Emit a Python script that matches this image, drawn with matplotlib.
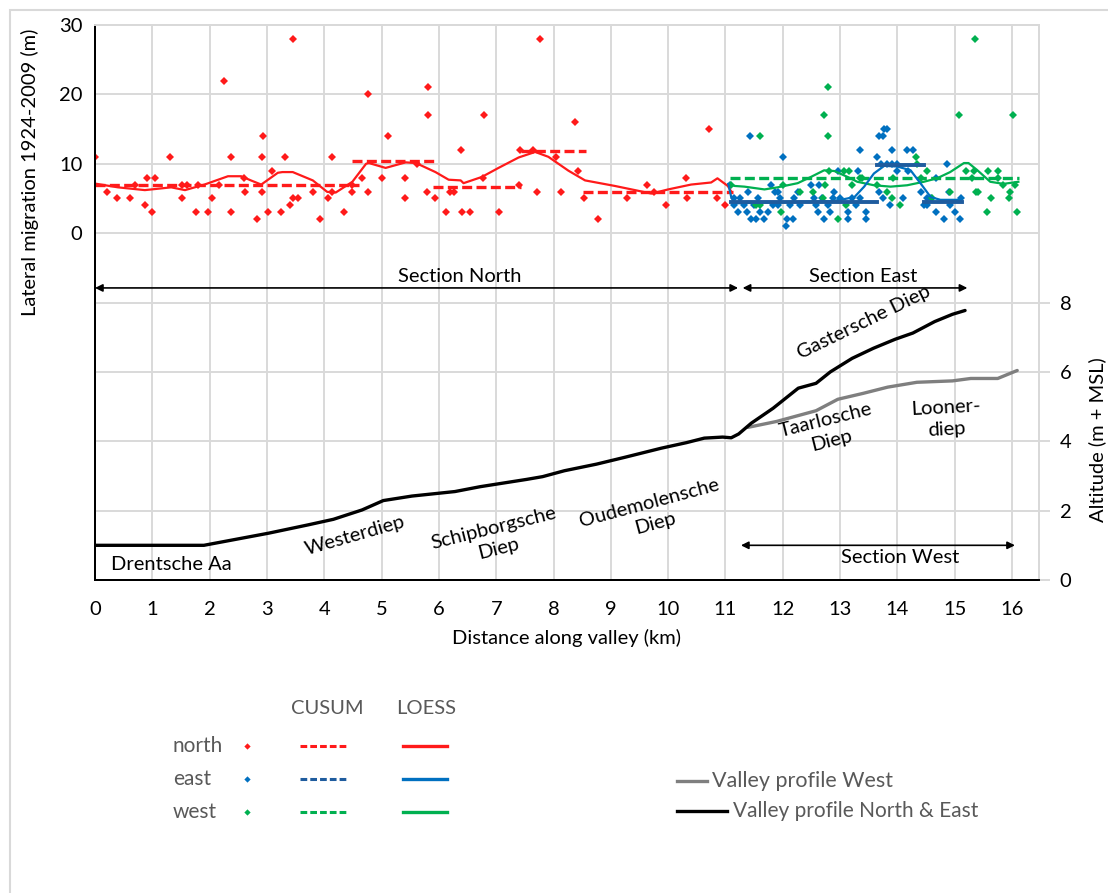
import matplotlib
matplotlib.use("Agg")
import matplotlib.pyplot as plt
from matplotlib.lines import Line2D
from matplotlib.patches import Rectangle

plt.rcParams["font.family"] = ["Lato", "DejaVu Sans"]

# ---- lateral migration per section (km along valley, metres) ----
north_km = [0.00, 0.21, 0.39, 0.61, 0.69, 0.87, 0.90, 0.99, 1.04, 1.30, 1.52, 1.52, 1.61, 1.77,
            1.80, 1.98, 2.04, 2.17, 2.25, 2.37, 2.38, 2.60, 2.62, 2.83, 2.91, 2.91, 2.93, 3.02,
            3.08, 3.24, 3.31, 3.41, 3.45, 3.45, 3.54, 3.80, 3.92, 4.07, 4.14, 4.14, 4.35, 4.49,
            4.49, 4.65, 4.77, 4.77, 5.00, 5.11, 5.41, 5.41, 5.61, 5.80, 5.81, 5.81, 5.93, 6.13,
            6.20, 6.26, 6.38, 6.40, 6.54, 6.77, 6.79, 7.05, 7.40, 7.41, 7.64, 7.72, 7.76, 8.04,
            8.13, 8.37, 8.43, 8.54, 8.77, 9.29, 9.63, 9.75, 9.97, 10.31, 10.32, 10.72, 10.85, 11.00]
north_mig = [11, 6, 5, 5, 7, 4, 8, 3, 8, 11, 5, 7, 7, 3,
             7, 3, 5, 7, 22, 3, 11, 8, 6, 2, 11, 6, 14, 3,
             9, 3, 11, 4, 28, 5, 5, 6, 2, 5, 11, 6, 3, 7,
             6, 8, 20, 6, 8, 14, 8, 5, 10, 6, 21, 17, 5, 3,
             6, 6, 12, 3, 3, 8, 17, 3, 7, 12, 12, 6, 28, 11,
             6, 16, 9, 5, 2, 5, 7, 6, 4, 8, 5, 15, 5, 4]

east_km = [11.08, 11.15, 11.15, 11.21, 11.25, 11.33, 11.38, 11.40, 11.43, 11.45, 11.49, 11.54,
           11.57, 11.61, 11.68, 11.75, 11.79, 11.83, 11.87, 11.91, 11.91, 11.95, 12.00, 12.05,
           12.08, 12.13, 12.17, 12.20, 12.26, 12.30, 12.49, 12.54, 12.58, 12.62, 12.64, 12.69,
           12.72, 12.78, 12.83, 12.87, 12.90, 12.96, 12.99, 13.13, 13.13, 13.20, 13.28, 13.32,
           13.34, 13.35, 13.45, 13.45, 13.65, 13.67, 13.68, 13.72, 13.74, 13.74, 13.77, 13.81,
           13.81, 13.87, 13.90, 13.90, 13.99, 14.00, 14.10, 14.16, 14.18, 14.28, 14.41, 14.47,
           14.51, 14.52, 14.58, 14.67, 14.68, 14.81, 14.87, 14.90, 14.91, 15.01, 15.10, 15.11]
east_mig = [7, 5, 4, 3, 5, 4, 3, 6, 14, 2, 4, 2,
            5, 3, 2, 3, 7, 4, 6, 6, 4, 5, 11, 1,
            2, 4, 2, 5, 6, 4, 7, 5, 4, 3, 7, 5,
            2, 4, 3, 5, 6, 9, 5, 3, 2, 5, 4, 9,
            12, 5, 3, 2, 11, 14, 6, 10, 5, 14, 15, 15,
            10, 4, 12, 10, 10, 9, 5, 12, 9, 12, 6, 4,
            5, 4, 5, 3, 8, 2, 10, 6, 4, 3, 2, 5]

west_km = [11.10, 11.54, 11.60, 11.61, 11.96, 12.01, 12.30, 12.52, 12.70, 12.72, 12.73, 12.78,
           12.79, 12.80, 12.97, 13.07, 13.10, 13.15, 13.20, 13.35, 13.39, 13.65, 13.81, 13.90,
           13.92, 14.05, 14.32, 14.35, 14.41, 14.51, 14.61, 14.91, 15.07, 15.20, 15.30, 15.33,
           15.36, 15.37, 15.41, 15.57, 15.58, 15.64, 15.76, 15.76, 15.84, 15.95, 15.96, 16.01,
           16.05, 16.09]
west_mig = [7, 4, 14, 4, 3, 7, 6, 6, 5, 17, 7, 14,
            21, 9, 2, 9, 4, 9, 7, 8, 8, 7, 6, 5,
            8, 4, 11, 10, 8, 9, 5, 6, 17, 9, 8, 9,
            28, 6, 6, 3, 9, 5, 9, 8, 7, 5, 6, 17,
            7, 3]

# ---- LOESS curves ----
north_loess_km = [0.03, 0.40, 0.87, 1.33, 1.57, 1.91, 2.32, 2.55, 2.72, 2.90, 3.19, 3.27, 3.45,
                  3.80, 4.05, 4.20, 4.49, 4.73, 4.78, 5.07, 5.42, 5.60, 5.94, 6.17, 6.38, 6.43,
                  6.75, 7.04, 7.39, 7.68, 7.91, 8.26, 8.55, 9.07, 9.42, 9.71, 10.00, 10.40,
                  10.75, 10.86, 11.04, 11.10]
north_loess = [7.1, 6.6, 6.2, 6.6, 6.2, 7.0, 8.2, 8.2, 7.6, 7.0, 8.7, 8.8, 8.8,
               7.6, 5.95, 5.85, 7.4, 10.0, 10.1, 9.4, 10.2, 10.1, 8.8, 7.7, 7.6, 7.2,
               8.1, 9.4, 10.9, 11.7, 11.0, 9.0, 7.6, 6.8, 6.2, 5.7, 6.3, 7.0,
               7.3, 7.9, 6.8, 6.0]

east_loess_km = [11.05, 11.10, 11.16, 11.68, 12.26, 12.84, 13.07, 13.25, 13.42, 13.59, 13.77,
                 14.00, 14.23, 14.41, 14.58, 14.75, 15.10]
east_loess = [7.1, 5.2, 4.3, 4.4, 4.5, 4.6, 4.9, 5.2, 6.7, 8.6, 9.7,
              9.6, 9.05, 7.1, 5.2, 4.8, 4.8]

west_loess_km = [11.08, 11.16, 11.33, 11.68, 11.91, 12.26, 12.49, 12.72, 12.90, 13.13, 13.30,
                 13.59, 13.88, 14.17, 14.46, 14.69, 14.92, 15.16, 15.24, 15.39, 15.62, 15.85, 16.11]
west_loess = [7.0, 6.8, 6.7, 6.3, 6.6, 7.2, 8.1, 9.05, 8.95, 8.1, 7.4,
              6.9, 6.7, 6.9, 7.4, 7.9, 8.8, 10.1, 10.1, 9.1, 7.4, 7.1, 7.4]

# ---- CUSUM segments: (start km, end km, level) ----
north_cusum = [(0.0, 4.60, 7.0), (4.49, 5.95, 10.4), (5.90, 7.43, 6.6), (7.43, 8.56, 11.8),
               (8.52, 11.13, 6.0)]
east_cusum = [(11.10, 13.65, 4.5), (13.65, 14.47, 9.8), (14.47, 15.13, 4.5)]
west_cusum = [(11.08, 16.12, 8.0)]

# ---- valley profiles (km, m + MSL) ----
prof_ne_km = [0.0, 1.9, 3.03, 3.72, 4.16, 4.66, 5.03, 5.53, 6.28, 6.72, 7.53, 7.81, 8.19, 8.75,
              9.25, 9.88, 10.32, 10.63, 10.95, 11.10, 11.23, 11.45, 11.83, 12.27, 12.58, 12.83,
              13.21, 13.58, 13.96, 14.27, 14.65, 14.96, 15.18]
prof_ne_alt = [1.0, 1.0, 1.35, 1.59, 1.75, 2.02, 2.29, 2.42, 2.55, 2.69, 2.9, 2.98, 3.15, 3.34,
               3.54, 3.8, 3.96, 4.09, 4.12, 4.1, 4.21, 4.52, 4.95, 5.53, 5.67, 6.0,
               6.39, 6.68, 6.94, 7.12, 7.45, 7.66, 7.77]
prof_w_km = [11.39, 11.89, 12.58, 12.96, 13.40, 13.83, 14.34, 14.96, 15.28, 15.75, 16.09]
prof_w_alt = [4.4, 4.57, 4.88, 5.21, 5.38, 5.56, 5.70, 5.74, 5.81, 5.81, 6.04]

RED = "#FF1A1A"
BLUE = "#0070C0"
BLUE_DK = "#1F5C9E"
GREEN = "#00B050"
GRID = "#D9D9D9"
TXT = "#595959"
FS = 14.5

W, H = 1108, 893
fig = plt.figure(figsize=(W / 100, H / 100), dpi=100)


def fx(x):
    return x / W


def fy(y):
    return 1 - y / H


# light frame round the figure
fig.patches.append(Rectangle((fx(10), -0.05), 1.2, fy(10) + 0.05, transform=fig.transFigure,
                             fill=False, edgecolor=GRID, lw=1.5))

ax = fig.add_axes([fx(95), fy(580), (1039 - 95) / W, (580 - 25) / H])
ax.set_xlim(0, 16.47)
ax.set_ylim(-50, 30)
ax2 = ax.twinx()
ax2.set_ylim(0, 16)

# grid
for k in range(1, 17):
    ax.axvline(k, color=GRID, lw=1.4, zorder=0)
for v in [0, 10, 20]:
    ax.axhline(v, color=GRID, lw=1.4, zorder=0)
for v in [2, 4, 6, 8]:
    ax2.axhline(v, color=GRID, lw=1.4, zorder=0)

ax.set_xticks(range(17))
ax.set_yticks([0, 10, 20, 30])
ax2.set_yticks([0, 2, 4, 6, 8])
ax.tick_params(axis="x", length=0, labelsize=FS, pad=15)
ax.tick_params(axis="y", length=0, labelsize=FS, pad=9)
ax2.tick_params(axis="y", length=8, color=GRID, width=1.4, labelsize=FS, pad=7)

for a in (ax, ax2):
    for side in ("top", "right"):
        a.spines[side].set_color(GRID)
        a.spines[side].set_linewidth(1.4)
    for side in ("left", "bottom"):
        a.spines[side].set_color("black")
        a.spines[side].set_linewidth(1.4)

ax.set_xlabel("Distance along valley (km)", fontsize=FS, labelpad=8)
fig.text(fx(30), fy(172), "Lateral migration 1924-2009 (m)", rotation=90, fontsize=FS,
         ha="center", va="center")
fig.text(fx(1097), fy(440), "Altitude (m + MSL)", rotation=90, fontsize=FS,
         ha="center", va="center")

# valley profiles
ax2.plot(prof_w_km, prof_w_alt, color="#7F7F7F", lw=2.4, solid_capstyle="round", zorder=3)
ax2.plot(prof_ne_km, prof_ne_alt, color="black", lw=2.4, solid_capstyle="round", zorder=3)

# scatter, cusum, loess
mk = dict(marker="D", ms=4.5, ls="none", mew=0)
ax.plot(north_km, north_mig, color=RED, zorder=4, **mk)
ax.plot(east_km, east_mig, color=BLUE, zorder=4, **mk)
ax.plot(west_km, west_mig, color=GREEN, zorder=4, **mk)

for x0, x1, lv in north_cusum:
    ax.plot([x0, x1], [lv, lv], color=RED, lw=2.4, dashes=(3, 1.3), zorder=5)
for x0, x1, lv in west_cusum:
    ax.plot([x0, x1], [lv, lv], color=GREEN, lw=2.4, dashes=(3, 1.3), zorder=5)
for x0, x1, lv in east_cusum:
    ax.plot([x0, x1], [lv, lv], color=BLUE_DK, lw=2.8, zorder=6)

ax.plot(north_loess_km, north_loess, color=RED, lw=1.6, zorder=5)
ax.plot(west_loess_km, west_loess, color=GREEN, lw=1.6, zorder=5)
ax.plot(east_loess_km, east_loess, color=BLUE, lw=1.6, zorder=5)

# section arrows
arr = dict(arrowstyle="<|-|>", color="black", lw=1.2, mutation_scale=11, shrinkA=0, shrinkB=0)
ax.annotate("", xy=(0.0, -7.9), xytext=(11.22, -7.9), arrowprops=arr)
ax.annotate("", xy=(11.3, -7.9), xytext=(15.22, -7.9), arrowprops=arr)
ax2.annotate("", xy=(11.27, 1.0), xytext=(16.05, 1.0), arrowprops=arr)
ax.text(6.37, -6.2, "Section North", fontsize=FS, ha="center", va="center")
ax.text(13.41, -6.2, "Section East", fontsize=FS, ha="center", va="center")
ax2.text(14.05, 0.66, "Section West", fontsize=FS, ha="center", va="center")

# stream names along the profile
names = [
    (1.34, 0.45, "Drentsche Aa", 0),
    (4.53, 1.27, "Westerdiep", 16),
    (7.0, 1.2, "Schipborgsche\nDiep", 14),
    (9.72, 1.92, "Oudemolensche\nDiep", 15),
    (13.42, 7.42, "Gastersche Diep", 26),
    (12.8, 4.3, "Taarlosche\nDiep", 14),
    (14.85, 4.65, "Looner-\ndiep", 3),
]
for x, y, s, rot in names:
    ax2.text(x, y, s, fontsize=FS, ha="center", va="center", rotation=rot,
             rotation_mode="anchor", linespacing=1.3)

# legend block
fig.text(fx(327), fy(708), "CUSUM", fontsize=FS, color=TXT, ha="center", va="center")
fig.text(fx(426), fy(708), "LOESS", fontsize=FS, color=TXT, ha="center", va="center")
rows = [("north", RED, RED, RED, 746), ("east", BLUE, BLUE_DK, BLUE, 779),
        ("west", GREEN, GREEN, GREEN, 812)]
for label, c_pt, c_cu, c_lo, y in rows:
    fig.text(fx(173), fy(y), label, fontsize=15, color=TXT, ha="left", va="center")
    fig.add_artist(Line2D([fx(247)], [fy(y)], marker="D", ms=3.2, mew=0, color=c_pt))
    fig.add_artist(Line2D([fx(300), fx(346)], [fy(y), fy(y)], color=c_cu, lw=2.2,
                          dashes=(2.2, 1.0)))
    fig.add_artist(Line2D([fx(403), fx(447)], [fy(y), fy(y)], color=c_lo, lw=2.4))

fig.add_artist(Line2D([fx(677), fx(707)], [fy(781), fy(781)], color="#7F7F7F", lw=2.4))
fig.text(fx(712), fy(781), "Valley profile West", fontsize=15.5, color=TXT, ha="left", va="center")
fig.add_artist(Line2D([fx(677), fx(727)], [fy(811), fy(811)], color="black", lw=2.4))
fig.text(fx(733), fy(811), "Valley profile North & East", fontsize=15, color=TXT,
         ha="left", va="center")

fig.savefig("out.png", dpi=100)
